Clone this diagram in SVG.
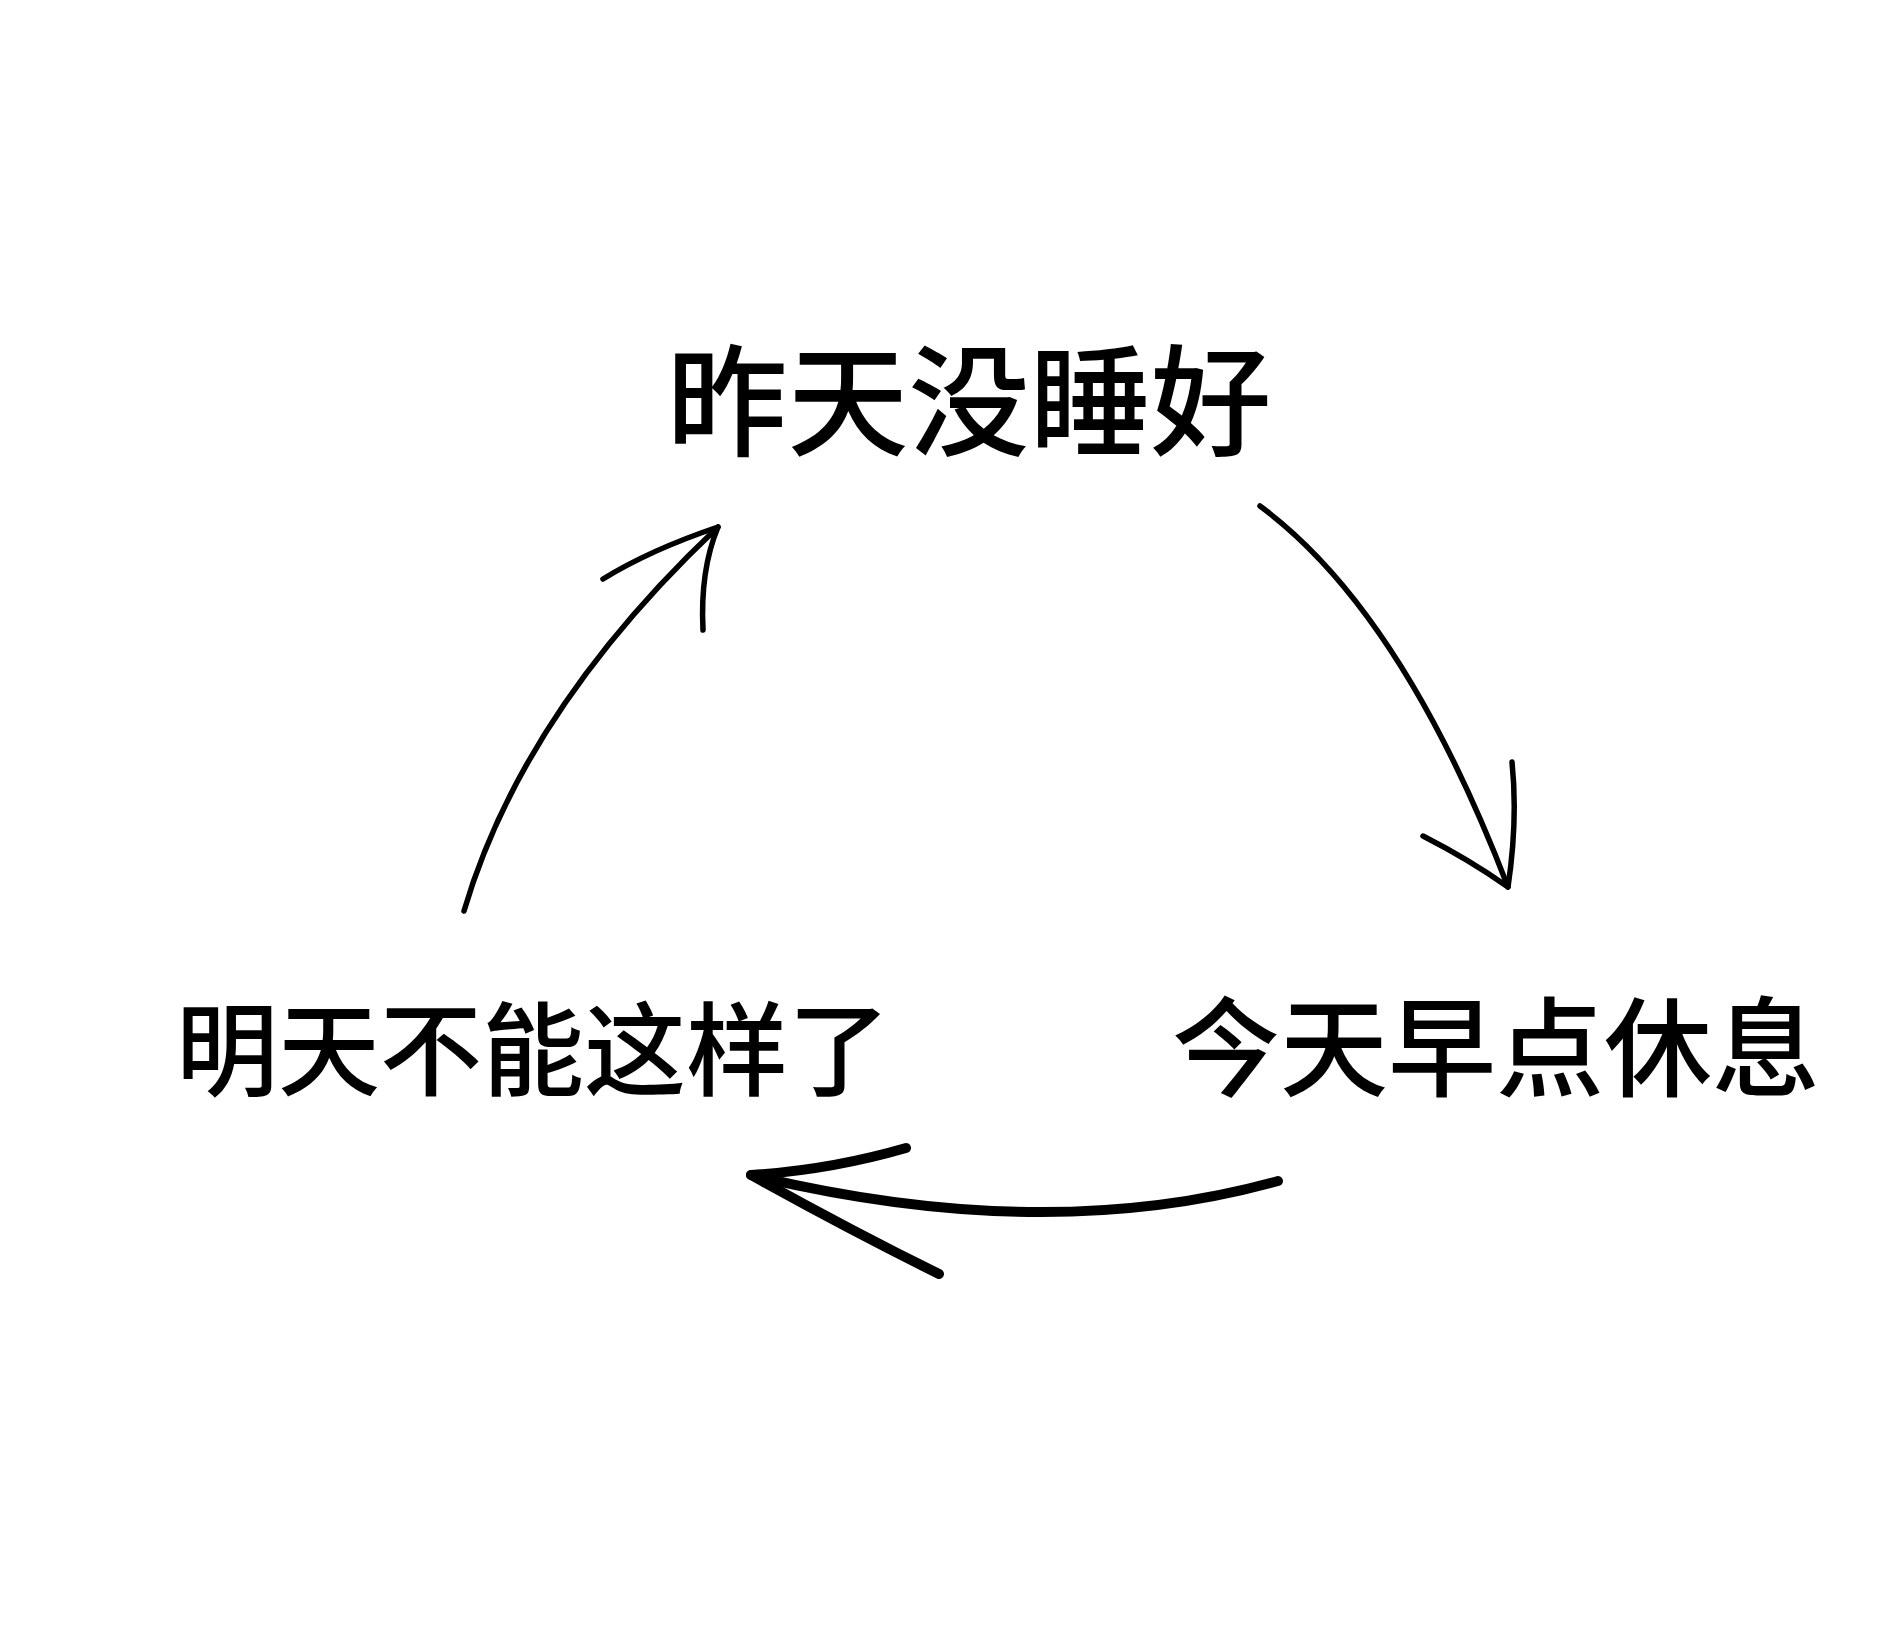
<svg xmlns="http://www.w3.org/2000/svg" width="1890" height="1641" viewBox="0 0 1890 1641">
<style>
text{font-family:"Noto Sans CJK SC","Noto Sans",sans-serif;font-weight:500;fill:#000;text-anchor:middle}
.c{fill:none;stroke:#000;stroke-linecap:round;stroke-linejoin:round}
</style>
<rect width="1890" height="1641" fill="#fff"/>
<g id="n1"><text x="969" y="446" font-size="121">昨天没睡好</text></g>
<g id="n2"><text x="1496" y="1088" font-size="108">今天早点休息</text></g>
<g id="n3"><text x="533" y="1088" font-size="102">明天不能这样了</text></g>
<g id="connectors">
<path class="c" stroke-width="5.5" d="M1260,506 Q1402,611 1508,887"/>
<path class="c" stroke-width="5.5" d="M1423,836 Q1470,860 1508,887 Q1518,820 1512,762"/>
<path class="c" stroke-width="5.5" d="M464,911 Q523,711 718,527"/>
<path class="c" stroke-width="5.5" d="M603,579 Q650,550 718,527 Q700,570 703,630"/>
<path class="c" stroke-width="10" d="M1278,1181 Q1045,1246 751,1175"/>
<path class="c" stroke-width="10" d="M906,1148 Q830,1170 751,1175 Q850,1230 939,1274"/>
</g>
</svg>
